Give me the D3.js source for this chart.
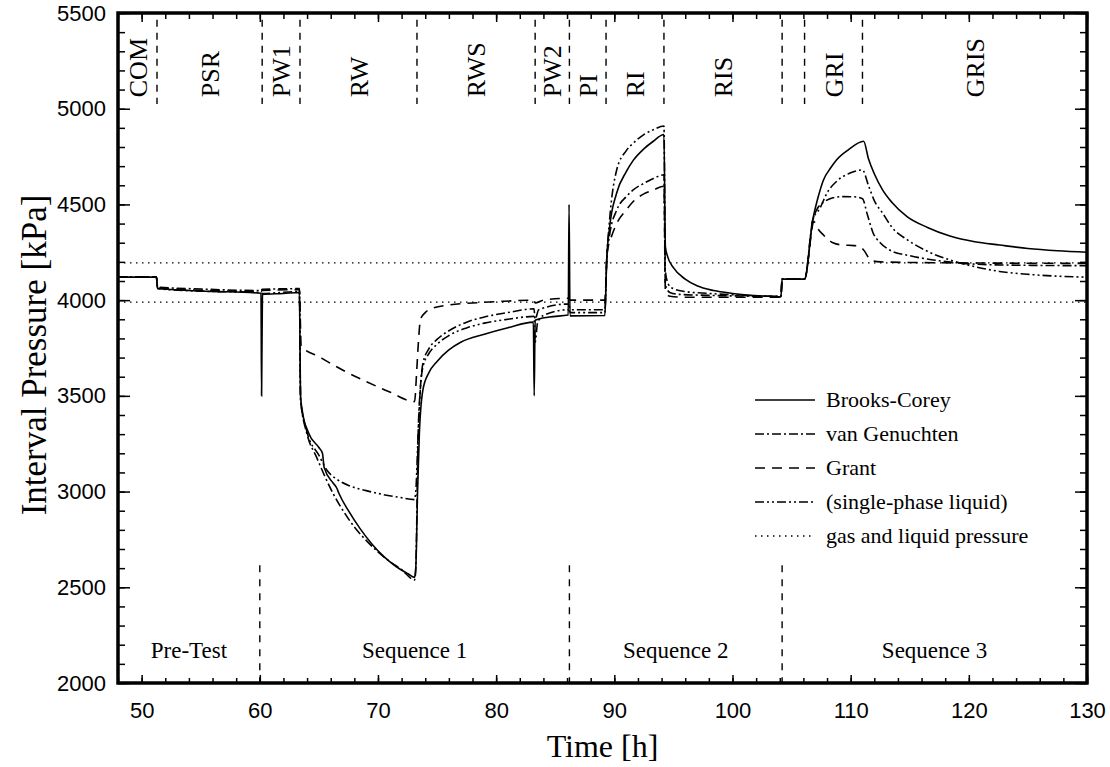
<!DOCTYPE html>
<html>
<head>
<meta charset="utf-8">
<script src="https://cdn.jsdelivr.net/npm/d3@7"></script>
<style>
    body { margin: 0; background: #fff; }
</style>
</head>
<body>
<svg id="chart" width="1110" height="767"></svg>
<script>
// test phases along the top, boundaries in hours
let phaseBounds = [48, 51.3, 60.2, 63.4, 73.3, 83.3, 86.2, 89.3, 94.2, 104.2, 106.1, 111.0, 130]
let phaseLabels = ['COM', 'PSR', 'PW1', 'RW', 'RWS', 'PW2', 'PI', 'RI', 'RIS', '', 'GRI', 'GRIS']

let sequenceBounds = [48, 60, 86.2, 104.2, 130]
let sequenceLabels = ['Pre-Test', 'Sequence 1', 'Sequence 2', 'Sequence 3']

// gas and liquid pressure levels [kPa]
let gasLiquidLevels = [4195, 3990]

let xTicks = [50, 60, 70, 80, 90, 100, 110, 120, 130]
let yTicks = [2000, 2500, 3000, 3500, 4000, 4500, 5000, 5500]

// [time h, pressure kPa]
let brooksCorey = [
    [48, 4120], [51.25, 4120], [51.35, 4062], [55, 4048], [60.1, 4036], [60.15, 3500], [60.22, 4030], [62, 4035], [63.35, 4040],
    [63.45, 3500], [63.6, 3420], [64.1, 3310], [65.0, 3230], [65.3, 3200], [65.45, 3125], [66.2, 3045], [66.5, 3020], [66.7, 2990],
    [67.5, 2900], [68.5, 2805], [69.5, 2725], [70.5, 2660], [71.5, 2610], [72.5, 2572], [73.1, 2552],
    [73.2, 2600], [73.35, 3000], [73.5, 3300], [73.8, 3530], [74.3, 3620], [75, 3680], [76, 3740], [77, 3780], [79, 3822], [81, 3856], [83.15, 3885],
    [83.22, 3500], [83.3, 3895], [84.5, 3912], [86.1, 3922], [86.17, 4500], [86.25, 3918], [89.2, 3920],
    [89.35, 4200], [89.6, 4380], [90.2, 4560], [91, 4670], [91.6, 4730], [92.5, 4790], [93.3, 4830], [94.2, 4865],
    [94.32, 4280], [94.5, 4230], [95, 4170], [96, 4110], [97, 4075], [98.4, 4050], [100, 4035], [101.2, 4027], [103, 4020], [104.1, 4017],
    [104.2, 4110], [106.1, 4110], [106.8, 4420], [107.3, 4550], [107.7, 4628], [108.3, 4690], [108.8, 4732], [109.8, 4785], [111.1, 4830],
    [111.5, 4740], [112, 4660], [112.7, 4576], [113.5, 4510], [114.8, 4435], [116.5, 4380], [118.4, 4335], [120.5, 4305],
    [122.6, 4288], [125, 4270], [127.5, 4258], [130, 4250]
]

let vanGenuchten = [
    [48, 4122], [51.25, 4122], [51.35, 4068], [55, 4058], [60.1, 4050], [60.2, 4056], [63.35, 4060],
    [63.45, 3480], [64, 3300], [64.8, 3180], [65.5, 3080], [66.2, 2990], [67, 2905], [68, 2815], [69, 2745], [70, 2685],
    [71, 2635], [72, 2592], [73.1, 2538],
    [73.2, 2600], [73.4, 3300], [73.6, 3550], [73.8, 3670], [74.3, 3745], [75, 3795], [76, 3840], [77.5, 3885], [79, 3912], [81, 3935], [83.2, 3955],
    [83.3, 3900], [83.6, 3950], [86.1, 3980], [86.3, 3950], [89.2, 3950],
    [89.35, 4200], [89.6, 4340], [90.2, 4470], [91, 4540], [91.6, 4576], [92.5, 4610], [93.3, 4635], [94.2, 4655],
    [94.32, 4080], [94.7, 4040], [95.5, 4030], [98, 4025], [104.1, 4020],
    [104.2, 4110], [106.1, 4110], [106.8, 4420], [107.2, 4480], [107.8, 4515], [108.5, 4535], [109.3, 4541], [110.3, 4540], [111, 4530],
    [111.4, 4450], [111.9, 4351], [112.5, 4300], [113.3, 4262], [115, 4232], [117, 4210], [119, 4195], [121.2, 4186], [125, 4182], [130, 4180]
]

let grant = [
    [48, 4120], [51.25, 4120], [51.35, 4062], [55, 4052], [60.1, 4045], [60.2, 4050], [63.35, 4055],
    [63.5, 3760], [65, 3705], [67, 3635], [69, 3575], [71, 3520], [73.1, 3470],
    [73.25, 3600], [73.4, 3760], [73.6, 3900], [74, 3935], [74.5, 3955], [76, 3975], [78, 3985], [80, 3992], [83.2, 4000],
    [83.3, 3985], [84, 4000], [86.1, 4010], [86.3, 4000], [89.2, 4000],
    [89.4, 4250], [89.7, 4320], [90.2, 4400], [91, 4470], [91.6, 4515], [92.5, 4555], [93.3, 4575], [94.2, 4595],
    [94.32, 4050], [94.7, 4020], [96, 4015], [104.1, 4015],
    [104.2, 4110], [106.1, 4110], [106.9, 4410], [107.1, 4385], [107.7, 4340], [108.5, 4300], [109.3, 4288], [110.3, 4285], [110.8, 4278],
    [111.1, 4262], [111.7, 4210], [112.5, 4200], [116, 4196], [130, 4192]
]

let singlePhase = [
    [48, 4120], [51.25, 4120], [51.35, 4060], [55, 4047], [60.1, 4040], [60.2, 4035], [63.35, 4045],
    [63.45, 3480], [64, 3310], [65, 3190], [65.7, 3110], [66.5, 3065], [67.6, 3030], [69, 3005], [70.4, 2985], [71.8, 2970], [73.1, 2958],
    [73.2, 3000], [73.4, 3300], [73.6, 3550], [73.8, 3650], [74.3, 3720], [75, 3770], [76, 3815], [77.5, 3855], [79, 3880], [81, 3900], [83.2, 3915],
    [83.3, 3780], [83.5, 3880], [84, 3920], [86.1, 3950], [86.3, 3935], [89.2, 3935],
    [89.35, 4200], [89.6, 4420], [90.2, 4680], [91, 4780], [91.6, 4820], [92.5, 4865], [93.3, 4890], [94.2, 4910],
    [94.32, 4150], [94.6, 4080], [95, 4060], [96, 4045], [98, 4035], [100, 4028], [104.1, 4020],
    [104.2, 4110], [106.1, 4110], [106.8, 4420], [107.4, 4480], [108, 4560], [108.8, 4620], [110, 4665], [111, 4680],
    [111.5, 4600], [112, 4520], [112.7, 4455], [113.5, 4380], [114.8, 4315], [116.5, 4255], [118.4, 4210], [120.5, 4175],
    [122.6, 4150], [125, 4135], [127.5, 4125], [130, 4120]
]

let seriesNames = ['Brooks-Corey', 'van Genuchten', 'Grant', '(single-phase liquid)', 'gas and liquid pressure']

let dashes = {
    'Brooks-Corey': null,
    'van Genuchten': '9,3,2,3',
    'Grant': '10,7',
    '(single-phase liquid)': '9,3,2,3,2,3',
    'gas and liquid pressure': '1.5,4.5'
}

let serif = 'Liberation Serif, Times New Roman, serif'
let sans = 'Liberation Sans, Arial, sans-serif'

let svg = d3.select('#chart')

let x = d3.scaleLinear().domain([48, 130]).range([118, 1087])
let y = d3.scaleLinear().domain([2000, 5500]).range([683, 13])

svg.append('defs')
    .append('clipPath')
    .attr('id', 'plotclip')
    .append('rect')
    .attr('x', x(48))
    .attr('y', y(5500))
    .attr('width', x(130) - x(48))
    .attr('height', y(2000) - y(5500))

// axes, ticks pointing inward
let styleAxis = (g) => {
    g.select('.domain').remove()
    g.selectAll('.tick line').attr('stroke', 'black').attr('stroke-width', 1.5)
    g.selectAll('text').attr('font-family', sans).attr('font-size', 22).attr('fill', 'black')
}

svg.append('g')
    .attr('transform', `translate(0,${y(2000)})`)
    .call(d3.axisBottom(x).tickValues(xTicks).tickSize(-8).tickPadding(19).tickFormat(d3.format('d')))
    .call(styleAxis)

svg.append('g')
    .attr('transform', `translate(0,${y(2000)})`)
    .call(d3.axisBottom(x).tickValues(d3.range(48, 131, 2)).tickSize(-5).tickFormat(''))
    .call(styleAxis)

svg.append('g')
    .attr('transform', `translate(0,${y(5500)})`)
    .call(d3.axisTop(x).tickValues(xTicks).tickSize(-9).tickFormat(''))
    .call(styleAxis)

svg.append('g')
    .attr('transform', `translate(0,${y(5500)})`)
    .call(d3.axisTop(x).tickValues(d3.range(48, 131, 2)).tickSize(-6).tickFormat(''))
    .call(styleAxis)

svg.append('g')
    .attr('transform', `translate(${x(48)},0)`)
    .call(d3.axisLeft(y).tickValues(yTicks).tickSize(-12).tickPadding(12).tickFormat(d3.format('d')))
    .call(styleAxis)

svg.append('g')
    .attr('transform', `translate(${x(48)},0)`)
    .call(d3.axisLeft(y).tickValues(d3.range(2000, 5501, 100)).tickSize(-7).tickFormat(''))
    .call(styleAxis)

svg.append('g')
    .attr('transform', `translate(${x(130)},0)`)
    .call(d3.axisRight(y).tickValues(yTicks).tickSize(-12).tickFormat(''))
    .call(styleAxis)

svg.append('g')
    .attr('transform', `translate(${x(130)},0)`)
    .call(d3.axisRight(y).tickValues(d3.range(2000, 5501, 100)).tickSize(-7).tickFormat(''))
    .call(styleAxis)

// gas and liquid pressure
svg.append('g')
    .selectAll('line')
    .data(gasLiquidLevels)
    .enter()
    .append('line')
    .attr('x1', x(48))
    .attr('x2', x(130))
    .attr('y1', (p) => y(p))
    .attr('y2', (p) => y(p))
    .attr('stroke', 'black')
    .attr('stroke-width', 1.2)
    .attr('stroke-dasharray', dashes['gas and liquid pressure'])

let line = d3.line()
    .x((d) => x(d[0]))
    .y((d) => y(d[1]))
    .curve(d3.curveMonotoneX)

let curves = [
    { name: 'Grant', values: grant },
    { name: '(single-phase liquid)', values: singlePhase },
    { name: 'van Genuchten', values: vanGenuchten },
    { name: 'Brooks-Corey', values: brooksCorey }
]

svg.append('g')
    .attr('clip-path', 'url(#plotclip)')
    .selectAll('path')
    .data(curves)
    .enter()
    .append('path')
    .attr('d', (c) => line(c.values))
    .attr('fill', 'none')
    .attr('stroke', 'black')
    .attr('stroke-width', 1.6)
    .attr('stroke-dasharray', (c) => dashes[c.name])

// phase dividers and labels at the top
svg.append('g')
    .selectAll('line')
    .data(phaseBounds.slice(1, -1))
    .enter()
    .append('line')
    .attr('x1', (t) => x(t))
    .attr('x2', (t) => x(t))
    .attr('y1', y(5465))
    .attr('y2', y(5025))
    .attr('stroke', 'black')
    .attr('stroke-width', 1.4)
    .attr('stroke-dasharray', '7,6')

svg.append('g')
    .selectAll('text')
    .data(phaseLabels)
    .enter()
    .append('text')
    .attr('transform', (label, i) => {
        let mid = (phaseBounds[i] + phaseBounds[i + 1]) / 2
        return `translate(${x(mid)},${y(5060)}) rotate(-90)`
    })
    .attr('dy', '0.35em')
    .attr('font-family', serif)
    .attr('font-size', 26)
    .text((label) => label)

// sequence dividers and labels at the bottom
svg.append('g')
    .selectAll('line')
    .data(sequenceBounds.slice(1, -1))
    .enter()
    .append('line')
    .attr('x1', (t) => x(t))
    .attr('x2', (t) => x(t))
    .attr('y1', y(2615))
    .attr('y2', y(2000))
    .attr('stroke', 'black')
    .attr('stroke-width', 1.4)
    .attr('stroke-dasharray', '7,7')

svg.append('g')
    .selectAll('text')
    .data(sequenceLabels)
    .enter()
    .append('text')
    .attr('x', (label, i) => x((sequenceBounds[i] + sequenceBounds[i + 1]) / 2))
    .attr('y', y(2130))
    .attr('text-anchor', 'middle')
    .attr('font-family', serif)
    .attr('font-size', 23)
    .text((label) => label)

// frame
svg.append('rect')
    .attr('x', x(48))
    .attr('y', y(5500))
    .attr('width', x(130) - x(48))
    .attr('height', y(2000) - y(5500))
    .attr('fill', 'none')
    .attr('stroke', 'black')
    .attr('stroke-width', 3.5)

// legend
let legend = svg.append('g')
    .attr('transform', 'translate(755,400)')
    .selectAll('g')
    .data(seriesNames)
    .enter()
    .append('g')
    .attr('transform', (name, i) => `translate(0,${i * 34})`)

legend.append('line')
    .attr('x1', 0)
    .attr('x2', 60)
    .attr('stroke', 'black')
    .attr('stroke-width', 1.6)
    .attr('stroke-dasharray', (name) => dashes[name])

legend.append('text')
    .attr('x', 71)
    .attr('dy', '0.33em')
    .attr('font-family', serif)
    .attr('font-size', 22)
    .text((name) => name)

// axis titles
svg.append('text')
    .attr('x', (x(48) + x(130)) / 2)
    .attr('y', 757)
    .attr('text-anchor', 'middle')
    .attr('font-family', serif)
    .attr('font-size', 32)
    .text('Time [h]')

svg.append('text')
    .attr('transform', `translate(46,355) rotate(-90)`)
    .attr('text-anchor', 'middle')
    .attr('font-family', serif)
    .attr('font-size', 35)
    .text('Interval Pressure [kPa]')
</script>
</body>
</html>
